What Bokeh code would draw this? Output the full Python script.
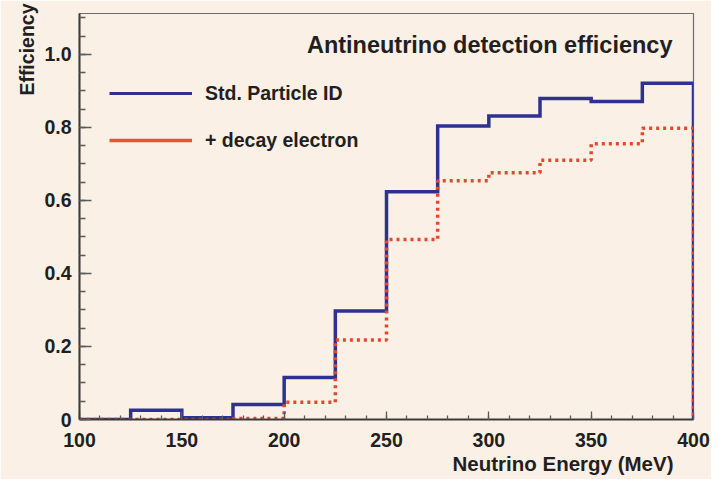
import math
from bokeh.plotting import figure
from bokeh.models import (Range1d, FixedTicker, CustomJSTickFormatter, Label,
                          Legend, LegendItem, Title)
from bokeh.embed import file_html
from bokeh.resources import INLINE

# ---- data ----
bin_edges = [100, 125, 150, 175, 200, 225, 250, 275, 300, 325, 350, 375, 400]
std_particle_id = [0.0, 0.025, 0.005, 0.041, 0.115, 0.297, 0.624, 0.804,
                   0.831, 0.879, 0.871, 0.921]
decay_electron = [0.0, 0.0, 0.0, 0.003, 0.047, 0.218, 0.493, 0.654,
                  0.676, 0.710, 0.755, 0.798]
x_major_ticks = [100, 150, 200, 250, 300, 350, 400]
y_major_ticks = [0.0, 0.2, 0.4, 0.6, 0.8, 1.0]

title_text = "Antineutrino detection efficiency"
x_title = "Neutrino Energy (MeV)"
y_title = "Efficiency"
series_names = ["Std. Particle ID", "+ decay electron"]

BG = "#FAF0E6"
BLUE = "#2E3192"
RED = "#E4472C"
RED_LEG = "#E2572C"
TXT = "#231F20"
FONT = "Liberation Sans"


def outline(edges, vals):
    xs, ys = [edges[0]], [0.0]
    for i, v in enumerate(vals):
        xs += [edges[i], edges[i + 1]]
        ys += [v, v]
    xs.append(edges[-1])
    ys.append(0.0)
    return xs, ys


p = figure(width=711, height=479, output_backend="svg", toolbar_location=None,
           x_range=Range1d(100, 400), y_range=Range1d(0, 1.112),
           min_border_left=79, min_border_right=18, min_border_top=13,
           min_border_bottom=60)
p.background_fill_color = BG
p.border_fill_color = BG
p.outline_line_color = "#6d6d6d"
p.outline_line_width = 1.2
p.xgrid.visible = False
p.ygrid.visible = False

for ax in (p.xaxis[0], p.yaxis[0]):
    ax.axis_line_color = "#3a3a3a"
    ax.axis_line_width = 2
    ax.major_tick_line_color = "#5a5a5a"
    ax.minor_tick_line_color = "#5a5a5a"
    ax.major_tick_line_width = 1.3
    ax.minor_tick_line_width = 1.3
    ax.major_tick_out = 0
    ax.minor_tick_out = 0
    ax.major_label_text_font = FONT
    ax.major_label_text_font_style = "bold"
    ax.major_label_text_font_size = "19.5px"
    ax.major_label_text_color = TXT

p.xaxis.ticker = FixedTicker(ticks=x_major_ticks,
                             minor_ticks=list(range(100, 401, 10)))
p.xaxis.major_tick_in = 8
p.xaxis.minor_tick_in = 4
p.xaxis.major_label_standoff = 13

p.yaxis.ticker = FixedTicker(ticks=y_major_ticks,
                             minor_ticks=[i * 0.05 for i in range(23)])
p.yaxis.major_tick_in = 12
p.yaxis.minor_tick_in = 6
p.yaxis.major_label_standoff = 8
p.yaxis.formatter = CustomJSTickFormatter(
    code="return Math.abs(tick) < 1e-9 ? '0' : tick.toFixed(1);")

bx, by = outline(bin_edges, std_particle_id)
rx, ry = outline(bin_edges, decay_electron)
p.line(bx, by, line_color=BLUE, line_width=3.5, line_join="miter")
p.line(rx, ry, line_color=RED, line_width=3.5, line_dash="3 4",
       line_cap="butt")

# legend proxies (solid lines as in the reference key; never drawn in plot)
leg_blue = p.line([bin_edges[0]], [math.nan], line_color=BLUE, line_width=3)
leg_red = p.line([bin_edges[0]], [math.nan], line_color=RED_LEG,
                 line_width=3.5)
legend = Legend(items=[LegendItem(label=series_names[0], renderers=[leg_blue]),
                       LegendItem(label=series_names[1], renderers=[leg_red])],
                location=(30, 267), orientation="vertical",
                background_fill_alpha=0, border_line_alpha=0,
                padding=0, margin=0, spacing=23,
                glyph_width=83, glyph_height=24, label_height=24,
                label_standoff=13,
                label_text_font=FONT, label_text_font_style="bold",
                label_text_font_size="19.5px", label_text_color=TXT)
p.add_layout(legend)

p.add_layout(Label(x=400, y=1.112, x_offset=-21, y_offset=-31.5,
                   text=title_text, text_align="right",
                   text_baseline="alphabetic", text_font=FONT,
                   text_font_style="bold", text_font_size="23.5px",
                   text_color=TXT))

xt = Title(text=x_title, align="right", offset=20, standoff=0,
           text_font=FONT, text_font_style="bold", text_font_size="20.5px",
           text_color=TXT)
p.add_layout(xt, "below")

yt = Title(text=y_title, align="right", offset=-10, standoff=8,
           text_font=FONT, text_font_style="bold", text_font_size="19.5px",
           text_color=TXT)
p.add_layout(yt, "left")

open("out.html", "w").write(file_html(p, INLINE))
